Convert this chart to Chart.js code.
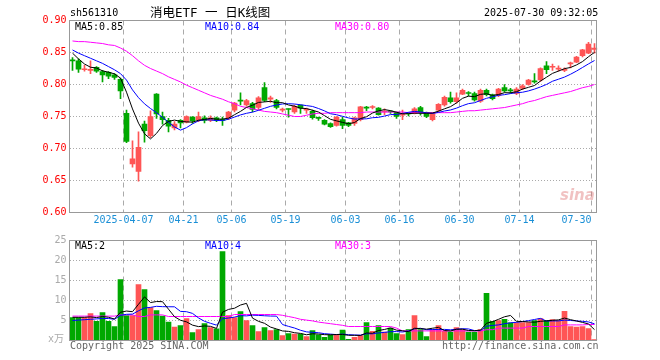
<!DOCTYPE html>
<html><head><meta charset="utf-8">
<script src="https://cdn.jsdelivr.net/npm/chart.js@4.4.1/dist/chart.umd.min.js"></script>
<style>
html,body{margin:0;padding:0;background:#fff;}
#wrap{position:relative;width:660px;height:360px;overflow:hidden;background:#fff;}
canvas{position:absolute;left:0;top:0;}
.t{position:absolute;font-family:"DejaVu Sans Mono",monospace;font-size:10px;line-height:12px;white-space:pre;color:#000;}
</style></head><body>
<div id="wrap">
<canvas id="pc" width="660" height="360"></canvas>
<canvas id="vc" width="660" height="360"></canvas>
<div class="t" style="left:70px;top:7px;">sh561310</div>
<div class="t" style="left:150px;top:5px;font-family:'DejaVu Sans Mono','Noto Sans CJK SC',monospace;font-size:12.5px;line-height:15px;">消电ETF 一 日K线图</div>
<div class="t" style="left:484px;top:7px;">2025-07-30 09:32:05</div>
<div class="t" style="left:75px;top:21px;">MA5:0.85</div>
<div class="t" style="left:205px;top:21px;color:#0000ff;">MA10:0.84</div>
<div class="t" style="left:335px;top:21px;color:#ff00ff;">MA30:0.80</div>
<div class="t" style="left:75px;top:240px;">MA5:2</div>
<div class="t" style="left:205px;top:240px;color:#0000ff;">MA10:4</div>
<div class="t" style="left:335px;top:240px;color:#ff00ff;">MA30:3</div>
<div class="t" style="left:48px;top:333px;color:#aaa;font-family:'DejaVu Sans Mono','Noto Sans CJK SC',monospace;">x万</div>
<div class="t" style="left:70px;top:340px;color:#666;">Copyright 2025 SINA.COM</div>
<div class="t" style="left:442px;top:340px;color:#666;">http://finance.sina.com.cn</div>
<div class="t" style="left:560px;top:186px;color:rgba(225,120,120,0.45);font-family:'DejaVu Sans',sans-serif;font-size:15px;line-height:18px;font-style:italic;font-weight:bold;">sina</div>
</div>
<script>
const dates = ["03-24","03-25","03-26","03-27","03-28","03-31","04-01","04-02","04-03",
"04-07","04-08","04-09","04-10","04-11","04-14","04-15","04-16","04-17","04-18",
"04-21","04-22","04-23","04-24","04-25","04-28","04-29","04-30",
"05-06","05-07","05-08","05-09","05-12","05-13","05-14","05-15","05-16",
"05-19","05-20","05-21","05-22","05-23","05-26","05-27","05-28","05-29","05-30",
"06-03","06-04","06-05","06-06","06-09","06-10","06-11","06-12","06-13",
"06-16","06-17","06-18","06-19","06-20","06-23","06-24","06-25","06-26","06-27",
"06-30","07-01","07-02","07-03","07-04","07-07","07-08","07-09","07-10","07-11",
"07-14","07-15","07-16","07-17","07-18","07-21","07-22","07-23","07-24","07-25","07-28","07-29","07-30"];
const tickDates = ["04-07","04-21","05-06","05-19","06-03","06-16","06-30","07-14","07-30"];
const tickText = ["2025-04-07","04-21","05-06","05-19","06-03","06-16","06-30","07-14","07-30"];

const open = [0.838,0.837,0.823,0.822,0.827,0.820,0.819,0.815,0.808,
0.755,0.676,0.664,0.738,0.720,0.785,0.750,0.744,0.732,0.744,
0.741,0.749,0.745,0.748,0.744,0.748,0.745,0.748,
0.760,0.775,0.768,0.770,0.764,0.795,0.777,0.775,0.760,
0.762,0.757,0.768,0.760,0.758,0.748,0.744,0.739,0.736,0.745,
0.740,0.739,0.745,0.764,0.764,0.763,0.757,0.758,0.757,
0.752,0.755,0.755,0.764,0.756,0.745,0.760,0.768,0.779,0.773,
0.785,0.787,0.786,0.774,0.791,0.784,0.783,0.795,0.791,0.786,
0.794,0.800,0.805,0.807,0.829,0.827,0.824,0.822,0.832,0.835,0.845,0.849,0.855];
const close = [0.837,0.824,0.824,0.823,0.821,0.815,0.813,0.811,0.790,
0.711,0.684,0.702,0.728,0.750,0.754,0.745,0.735,0.738,0.740,
0.750,0.743,0.750,0.744,0.748,0.744,0.744,0.757,
0.771,0.774,0.775,0.761,0.779,0.775,0.779,0.764,0.761,
0.761,0.766,0.763,0.761,0.748,0.747,0.738,0.734,0.749,0.736,
0.736,0.748,0.765,0.763,0.765,0.753,0.758,0.757,0.750,
0.753,0.754,0.762,0.756,0.750,0.755,0.769,0.780,0.773,0.779,
0.791,0.786,0.776,0.791,0.784,0.778,0.793,0.790,0.790,0.793,
0.798,0.807,0.804,0.825,0.823,0.828,0.825,0.823,0.834,0.843,0.854,0.863,0.857];
const high = [0.842,0.840,0.830,0.837,0.828,0.822,0.820,0.817,0.810,
0.760,0.712,0.726,0.743,0.759,0.786,0.757,0.747,0.742,0.745,
0.751,0.750,0.757,0.751,0.751,0.749,0.749,0.758,
0.772,0.787,0.777,0.772,0.781,0.803,0.782,0.777,0.763,
0.762,0.768,0.768,0.763,0.760,0.749,0.745,0.740,0.750,0.749,
0.741,0.749,0.766,0.766,0.767,0.764,0.762,0.759,0.757,
0.760,0.756,0.764,0.766,0.757,0.756,0.770,0.782,0.788,0.787,
0.793,0.789,0.788,0.793,0.793,0.785,0.794,0.800,0.794,0.795,
0.800,0.808,0.817,0.826,0.836,0.832,0.829,0.826,0.835,0.844,0.855,0.866,0.864];
const low = [0.822,0.819,0.821,0.817,0.819,0.804,0.809,0.808,0.778,
0.709,0.671,0.649,0.710,0.717,0.747,0.738,0.726,0.729,0.732,
0.740,0.739,0.742,0.740,0.742,0.742,0.736,0.745,
0.757,0.768,0.766,0.757,0.761,0.773,0.772,0.762,0.757,
0.749,0.755,0.755,0.755,0.746,0.744,0.737,0.733,0.735,0.731,
0.734,0.736,0.743,0.759,0.762,0.752,0.753,0.755,0.747,
0.745,0.751,0.754,0.752,0.748,0.743,0.757,0.766,0.771,0.771,
0.784,0.782,0.774,0.772,0.782,0.776,0.781,0.788,0.787,0.784,
0.792,0.799,0.802,0.805,0.817,0.822,0.821,0.820,0.826,0.834,0.843,0.848,0.849];
// moving averages: first values (they need earlier days)
const ma5Head = [0.849,0.840,0.832,0.827];
const ma10Head = [0.854,0.849,0.845,0.841,0.837,0.833,0.828,0.823,0.817];
const ma30 = [0.868,0.867,0.867,0.866,0.865,0.864,0.862,0.861,0.857,
0.852,0.845,0.837,0.830,0.825,0.821,0.817,0.812,0.808,0.804,
0.799,0.795,0.791,0.787,0.783,0.780,0.777,0.773,
0.770,0.766,0.764,0.762,0.760,0.758,0.757,0.756,0.754,
0.752,0.750,0.750,0.752,0.754,0.755,0.755,0.756,0.756,0.756,
0.756,0.756,0.756,0.757,0.757,0.757,0.757,0.757,0.757,
0.757,0.756,0.756,0.756,0.756,0.756,0.756,0.756,0.756,0.757,
0.758,0.759,0.759,0.760,0.761,0.762,0.763,0.764,0.766,0.768,
0.770,0.773,0.775,0.778,0.781,0.783,0.785,0.787,0.789,0.792,0.795,0.797,0.800];
// volume, in 10k
const volume = [5.7,5.7,5.7,6.75,4.8,7.0,4.8,3.5,15.25,
6.25,6.25,14.0,12.75,8.2,7.5,6.1,4.6,3.35,3.75,
5.5,2.0,2.75,4.2,3.25,2.9,22.25,6.25,
5.7,7.25,5.0,3.75,2.25,3.25,2.5,2.7,1.25,
1.7,1.6,1.6,1.0,2.5,1.4,0.8,1.4,1.4,2.6,
0.3,0.8,1.2,4.5,2.3,3.7,2.1,3.1,1.75,
1.5,2.7,6.25,2.7,1.0,2.7,3.75,2.3,2.1,3.25,
2.75,2.1,2.1,2.75,11.8,4.8,5.0,5.3,4.4,4.5,
4.5,4.5,5.0,5.5,5.0,5.25,5.0,7.3,3.5,3.35,3.5,3.0,0.25];
const vma5Head = [5.8,5.8,5.8,5.9];
const vma10Head = [5.0,5.1,5.2,5.3,5.4,5.5,5.5,5.3,6.3];
const vma30 = [6.1,6.1,6.1,6.1,6.1,6.1,6.1,6.1,6.4,
6.4,6.4,6.0,6.0,6.4,6.4,6.4,6.0,6.0,6.0,
6.0,6.0,6.0,6.0,6.0,6.0,6.0,6.0,
6.5,6.5,6.5,6.5,6.5,6.5,6.5,6.5,6.3,
6.0,5.7,5.3,5.1,4.9,4.6,4.4,4.2,4.0,3.8,
3.5,3.5,3.5,3.5,3.5,3.5,3.5,3.5,3.1,
2.4,2.4,2.4,2.4,2.4,2.4,2.4,2.4,2.4,2.4,
2.4,2.4,2.4,2.4,2.7,2.7,3.1,3.1,3.1,3.1,
3.1,3.5,3.5,3.5,3.5,3.5,3.5,3.9,3.9,3.9,3.9,4.0,4.0];

const UP = '#ff5555', DOWN = '#00a800';
function movAvg(arr, n, head){
  return arr.map((v,i)=>{
    if (i < n-1) return head[i];
    let s = 0; for (let k=i-n+1;k<=i;k++) s += arr[k];
    return s/n;
  });
}
const ma5 = movAvg(close,5,ma5Head), ma10 = movAvg(close,10,ma10Head);
const vma5 = movAvg(volume,5,vma5Head), vma10 = movAvg(volume,10,vma10Head);
const colors = close.map((c,i)=> c >= open[i] ? UP : DOWN);
const bodies = close.map((c,i)=>[open[i], c]);
const wicks = close.map((c,i)=>[low[i], high[i]]);
const tickSet = new Set(tickDates.map(d=>dates.indexOf(d)));

const L = 69.5, R = 597.5;
const MONO = '"DejaVu Sans Mono", monospace';

const boxPlugin = {id:'box', afterDraw(chart){
  const a = chart.chartArea, ctx = chart.ctx;
  ctx.save(); ctx.strokeStyle = '#999'; ctx.lineWidth = 1;
  ctx.strokeRect(a.left, a.top, a.right-a.left-1, a.bottom-a.top);
  ctx.restore();
}};
const xLabelPlugin = {id:'xl', afterDraw(chart){
  const ctx = chart.ctx, xs = chart.scales.x, a = chart.chartArea;
  ctx.save(); ctx.font = '10px ' + MONO; ctx.fillStyle = '#1a8fd6'; ctx.textBaseline = 'middle';
  tickDates.forEach((d,k)=>{
    const idx = dates.indexOf(d);
    const x = (xs.getPixelForValue(idx) + xs.getPixelForValue(idx-1))/2;
    const txt = tickText[k];
    const w = ctx.measureText(txt).width;
    if (x + w/2 > a.right) { ctx.textAlign = 'right'; } else { ctx.textAlign = 'center'; }
    ctx.fillText(txt, x, 220);
  });
  ctx.restore();
}};

function xScale(){
  return {offset:true, grid:{offset:true, drawTicks:false, lineWidth:1,
      color: c => tickSet.has(c.index) ? '#aaa' : 'rgba(0,0,0,0)'},
    border:{display:false, dash:[5,4]}, ticks:{display:false, autoSkip:false},
    afterFit: s => { s.height = 0; }};
}
function lineDs(data, color){
  return {type:'line', data, borderColor:color, borderWidth:1, pointRadius:0, tension:0, order:0, fill:false};
}

new Chart(document.getElementById('pc'), {
  type:'bar',
  data:{labels:dates, datasets:[
    lineDs(ma5,'#000000'), lineDs(ma10,'#0000ff'), lineDs(ma30,'#ff00ff'),
    {data:bodies, backgroundColor:colors, barThickness:5, minBarLength:1, grouped:false, order:1, borderWidth:0},
    {data:wicks, backgroundColor:colors, barThickness:1, grouped:false, order:2, borderWidth:0}
  ]},
  options:{responsive:false, animation:false, events:[],
    layout:{padding:{left:0, right:660-R, top:20.5, bottom:360-212.5}},
    plugins:{legend:{display:false}, tooltip:{enabled:false}},
    scales:{
      x: xScale(),
      y:{min:0.6, max:0.9, ticks:{stepSize:0.05, color:'#ff0000', font:{family:MONO, size:10}, padding:3,
           callback:v=>Number(v).toFixed(2)},
         grid:{drawTicks:false, color:'#aaa'}, border:{display:false, dash:[1,2]},
         afterFit: s => { s.width = L; }}
    }
  },
  plugins:[boxPlugin, xLabelPlugin]
});

new Chart(document.getElementById('vc'), {
  type:'bar',
  data:{labels:dates, datasets:[
    lineDs(vma5,'#000000'), lineDs(vma10,'#0000ff'), lineDs(vma30,'#ff00ff'),
    {data:volume, backgroundColor:colors, barThickness:5, grouped:false, order:1, borderWidth:0}
  ]},
  options:{responsive:false, animation:false, events:[],
    layout:{padding:{left:0, right:660-R, top:240.5, bottom:360-340.5}},
    plugins:{legend:{display:false}, tooltip:{enabled:false}},
    scales:{
      x: xScale(),
      y:{min:0, max:25, ticks:{stepSize:5, color:'#aaa', font:{family:MONO, size:10}, padding:3,
           callback:v=> v===0 ? '' : String(v)},
         grid:{drawTicks:false, color:'#aaa'}, border:{display:false, dash:[1,2]},
         afterFit: s => { s.width = L; }}
    }
  },
  plugins:[boxPlugin]
});
</script>
</body></html>
